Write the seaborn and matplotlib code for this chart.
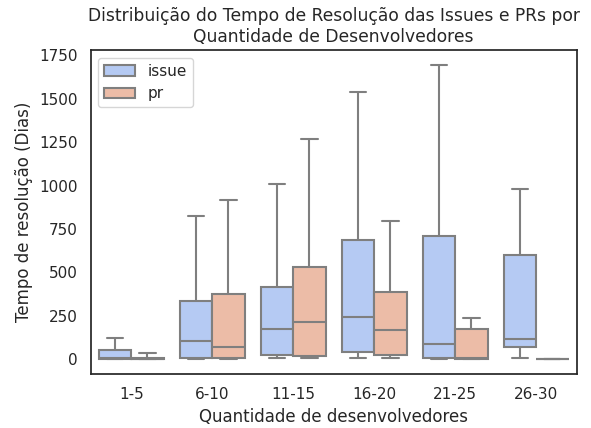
import matplotlib
matplotlib.use("Agg")
import matplotlib.pyplot as plt
import seaborn as sns
import pandas as pd

# Five-number summaries (min, Q1, median, Q3, max) of resolution time in days
groups = ["1-5", "6-10", "11-15", "16-20", "21-25", "26-30"]
issue_stats = [
    [0, 0, 5, 52, 120],
    [0, 10, 104, 335, 825],
    [5, 23, 173, 415, 1010],
    [5, 40, 243, 687, 1540],
    [0, 8, 88, 710, 1696],
    [5, 73, 115, 600, 980],
]
pr_stats = [
    [0, 0, 2, 10, 38],
    [0, 10, 70, 375, 917],
    [5, 17, 213, 530, 1270],
    [5, 23, 167, 387, 795],
    [0, 2, 5, 177, 237],
    [0, 0, 0, 0, 0],
]

rows = []
for kind, stats in (("issue", issue_stats), ("pr", pr_stats)):
    for g, vals in zip(groups, stats):
        for v in vals:
            rows.append({"devs": g, "tipo": kind, "dias": v})
df = pd.DataFrame(rows)

sns.set_theme(style="white")
fig, ax = plt.subplots(figsize=(5.91, 4.28), dpi=100)
sns.boxplot(data=df, x="devs", y="dias", hue="tipo", order=groups,
            hue_order=["issue", "pr"], palette="coolwarm",
            whis=(0, 100), showfliers=False, linewidth=1.5,
            linecolor="#7f7f7f", ax=ax)

ax.set_title("Distribuição do Tempo de Resolução das Issues e PRs por\nQuantidade de Desenvolvedores", fontsize=12.3)
ax.set_xlabel("Quantidade de desenvolvedores", fontsize=12)
ax.set_ylabel("Tempo de resolução (Dias)", fontsize=12)
ax.tick_params(labelsize=11)
ax.legend(loc="upper left", fontsize=11)

fig.subplots_adjust(left=0.1535, right=0.9758, top=0.8832, bottom=0.1262)
fig.savefig("out.png", dpi=100)
